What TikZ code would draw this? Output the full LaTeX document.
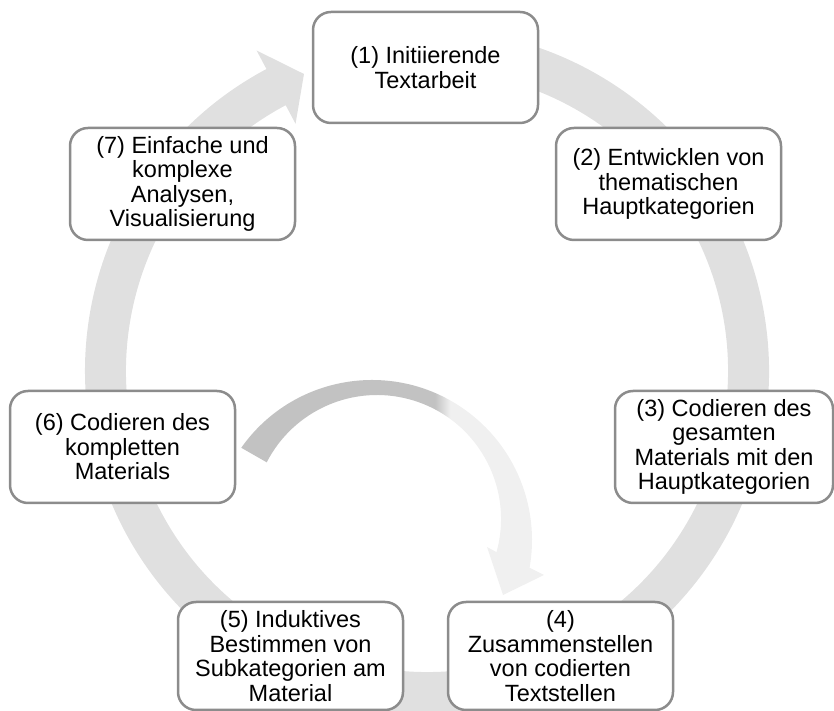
\documentclass[tikz,border=0pt]{standalone}
\usepackage{fontspec}
\setmainfont{Liberation Sans}
\definecolor{ringgray}{RGB}{224,224,224}
\definecolor{boxline}{RGB}{140,140,140}
\definecolor{arrdark}{RGB}{194,194,194}
\definecolor{arrlight}{RGB}{240,240,240}
\pgfdeclarehorizontalshading{innershade}{100bp}{color(0bp)=(arrdark); color(57bp)=(arrdark); color(59.5bp)=(arrlight); color(100bp)=(arrlight)}
\begin{document}
\begin{tikzpicture}[x=1pt,y=1pt,
  stepbox/.style={draw=boxline, fill=white, line width=2.5pt, rounded corners=18pt,
    align=center, inner sep=0pt, minimum width=225pt, minimum height=111pt,
    font=\fontsize{23.5}{24.5}\selectfont}]
\useasboundingbox (0,0) rectangle (834,711);
% big cycle arrow
\coordinate (C) at (427,340);
\fill[ringgray] ([shift={(C)}]460:342) arc[start angle=460,end angle=118,radius=342pt]
  -- ([shift={(C)}]118:363) -- ([shift={(C)}]112.5:321.5) -- ([shift={(C)}]118:280)
  -- ([shift={(C)}]118:301) arc[start angle=118,end angle=460,radius=301pt] -- cycle;
% inner curved arrow
\coordinate (Co) at (372,171);
\coordinate (Ci) at (377,192);
\coordinate (hr) at (544,136);
\coordinate (ht) at (503,116);
\coordinate (hl) at (487,164);
\path[shading=innershade] ([shift={(Co)}]144.8:160) arc[start angle=144.8,end angle=-10,radius=160pt]
  -- (hr) -- (ht) -- (hl)
  -- ([shift={(Ci)}]-15.5:124) arc[start angle=-15.5,end angle=152.8,radius=124pt] -- cycle;
% boxes
\node[stepbox] (n1) at (425.5,643.5) {(1) Initiierende\\Textarbeit};
\node[stepbox, minimum height=112pt] (n2) at (668.5,527) {(2) Entwicklen von\\thematischen\\Hauptkategorien};
\node[stepbox, minimum width=218pt, minimum height=112pt] (n3) at (724,264) {(3) Codieren des\\gesamten\\Materials mit den\\Hauptkategorien};
\node[stepbox, minimum height=108pt] (n4) at (560.5,55) {(4)\\Zusammenstellen\\von codierten\\Textstellen};
\node[stepbox, minimum height=108pt] (n5) at (290.5,55) {(5) Induktives\\Bestimmen von\\Subkategorien am\\Material};
\node[stepbox, minimum height=112pt] (n6) at (122.5,264) {(6) Codieren des\\kompletten\\Materials};
\node[stepbox, minimum height=112pt] (n7) at (182.5,527) {(7) Einfache und\\komplexe\\Analysen,\\Visualisierung};
\end{tikzpicture}
\end{document}
